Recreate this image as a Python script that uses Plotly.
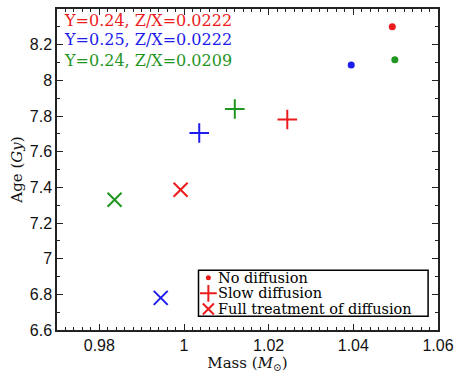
import plotly.graph_objects as go

# Stellar models: mass (solar masses) and age (Gyr) for three compositions
series_names = ["Y=0.24, Z/X=0.0222", "Y=0.25, Z/X=0.0222", "Y=0.24, Z/X=0.0209"]
series_colors = ["#ec1c1c", "#1c1cec", "#1f961f"]

# No diffusion
mass_nodiff = [1.0492, 1.0395, 1.0498]
age_nodiff = [8.30, 8.086, 8.115]
# Slow diffusion
mass_slow = [1.0244, 1.0036, 1.0120]
age_slow = [7.78, 7.705, 7.839]
# Full treatment of diffusion
mass_full = [0.9992, 0.9945, 0.9836]
age_full = [7.386, 6.78, 7.33]

legend_labels = ["No diffusion", "Slow diffusion", "Full treatment of diffusion"]

x_ticks = [0.98, 1.00, 1.02, 1.04, 1.06]
x_ticktext = ["0.98", "1", "1.02", "1.04", "1.06"]
y_ticks = [6.6, 6.8, 7.0, 7.2, 7.4, 7.6, 7.8, 8.0, 8.2]
y_ticktext = ["6.6", "6.8", "7", "7.2", "7.4", "7.6", "7.8", "8", "8.2"]

SERIF = "DejaVu Serif"
SANS = "Liberation Sans"

fig = go.Figure()

for i, color in enumerate(series_colors):
    fig.add_trace(go.Scatter(
        x=[mass_nodiff[i]], y=[age_nodiff[i]], mode="markers",
        marker=dict(symbol="circle", size=7, color=color, line=dict(width=0)),
        showlegend=False, hoverinfo="skip"))
    fig.add_trace(go.Scatter(
        x=[mass_slow[i]], y=[age_slow[i]], mode="markers",
        marker=dict(symbol="cross-thin", size=14, color=color,
                    line=dict(width=2, color=color)),
        showlegend=False, hoverinfo="skip"))
    fig.add_trace(go.Scatter(
        x=[mass_full[i]], y=[age_full[i]], mode="markers",
        marker=dict(symbol="x-thin", size=14, color=color,
                    line=dict(width=2, color=color)),
        showlegend=False, hoverinfo="skip"))

# Legend keys drawn on a small auxiliary axis pair inside the legend box
key_symbols = ["circle", "cross-thin", "x-thin"]
key_sizes = [5, 12, 11]
key_rows = [0.84, 0.50, 0.16]
for sym, sz, row in zip(key_symbols, key_sizes, key_rows):
    fig.add_trace(go.Scatter(
        x=[0.043], y=[row], mode="markers", xaxis="x2", yaxis="y2",
        marker=dict(symbol=sym, size=sz, color=series_colors[0],
                    line=dict(width=2 if sym != "circle" else 0, color=series_colors[0])),
        showlegend=False, hoverinfo="skip"))

legend_box = dict(x0=0.3714, x1=0.974, y0=0.0427, y1=0.186)

axis_common = dict(
    showline=True, linecolor="#222", linewidth=1.5, mirror="allticks",
    ticks="inside", ticklen=6, tickwidth=1.2, tickcolor="#222",
    showgrid=False, zeroline=False,
    tickfont=dict(family=SANS, size=16, color="#111"),
)

fig.update_layout(
    width=461, height=373,
    margin=dict(l=57, r=19, t=7, b=38),
    paper_bgcolor="white", plot_bgcolor="white",
    xaxis=dict(
        range=[0.97, 1.06], tickmode="array", tickvals=x_ticks, ticktext=x_ticktext,
        minor=dict(tickmode="linear", tick0=0.97, dtick=0.002, ticks="inside",
                   ticklen=3, tickwidth=1, tickcolor="#222"),
        title=dict(text="Mass (<i>M</i><sub>⊙</sub>)", font=dict(family=SERIF, size=15, color="#111"),
                   standoff=2),
        **axis_common),
    yaxis=dict(
        range=[6.6, 8.4], tickmode="array", tickvals=y_ticks, ticktext=y_ticktext,
        minor=dict(tickmode="linear", tick0=6.6, dtick=0.1, ticks="inside",
                   ticklen=3, tickwidth=1, tickcolor="#222"),
        title=dict(text="Age (<i>Gy</i>)", font=dict(family=SERIF, size=15, color="#111"),
                   standoff=4),
        **axis_common),
    xaxis2=dict(domain=[legend_box["x0"], legend_box["x1"]], range=[0, 1], visible=False,
                anchor="y2", fixedrange=True),
    yaxis2=dict(domain=[legend_box["y0"], legend_box["y1"]], range=[0, 1], visible=False,
                anchor="x2", fixedrange=True),
    shapes=[dict(type="rect", xref="paper", yref="paper", line=dict(color="black", width=1.5),
                 fillcolor="rgba(0,0,0,0)", **legend_box)],
)

# Composition labels in the upper left corner
label_rows = [0.964, 0.906, 0.839]
for name, color, yr in zip(series_names, series_colors, label_rows):
    fig.add_annotation(x=0.012, y=yr, xref="paper", yref="paper", text=name,
                       showarrow=False, xanchor="left", yanchor="middle",
                       font=dict(family=SERIF, size=16, color=color))

# Legend texts
for label, row in zip(legend_labels, key_rows):
    fig.add_annotation(x=0.075, y=row, xref="x2", yref="y2", text=label,
                       showarrow=False, xanchor="left", yanchor="middle",
                       font=dict(family=SERIF, size=14.5, color="black"))

fig.write_html("out.html")
